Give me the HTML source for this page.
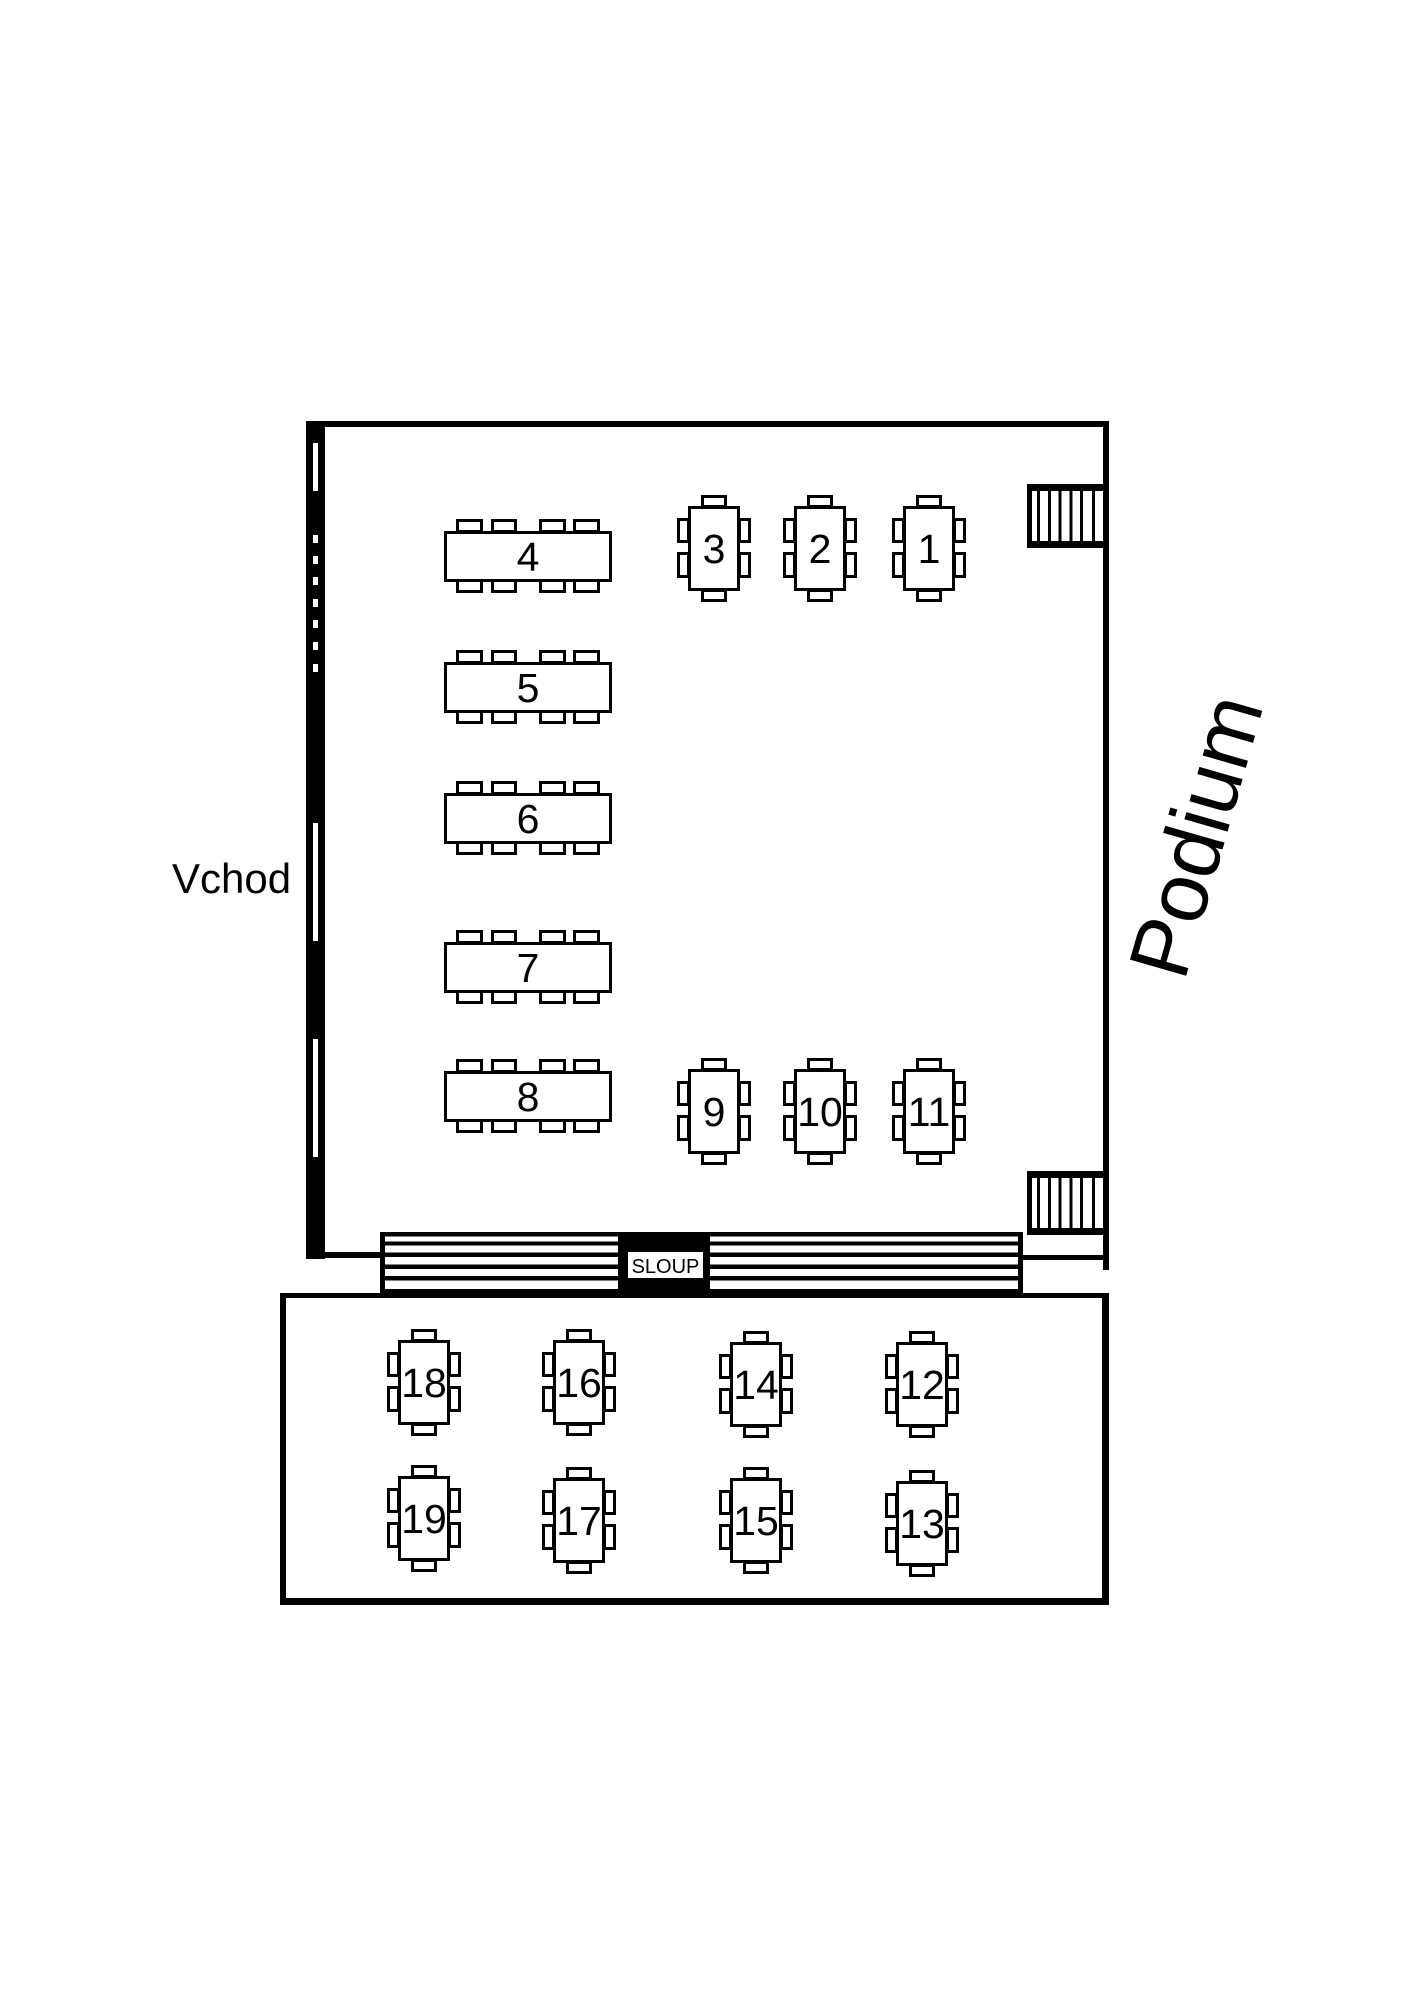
<!DOCTYPE html>
<html>
<head>
<meta charset="utf-8">
<style>
  html,body{margin:0;padding:0;background:#fff;}
  svg{display:block;}
  text{font-family:"Liberation Sans", Arial, sans-serif; fill:#000;}
</style>
</head>
<body>
<svg width="1413" height="2000" viewBox="0 0 1413 2000" xmlns="http://www.w3.org/2000/svg">
  <rect x="0" y="0" width="1413" height="2000" fill="#fff"/>
  <defs>
    <g id="st" fill="#fff" stroke="#000" stroke-width="3">
      <rect x="14.5" y="-9.5" width="23" height="10"/>
      <rect x="14.5" y="84.5" width="23" height="10"/>
      <rect x="-9.5" y="13.5" width="10" height="22"/>
      <rect x="-9.5" y="47.5" width="10" height="23"/>
      <rect x="51.5" y="13.5" width="10" height="22"/>
      <rect x="51.5" y="47.5" width="10" height="23"/>
      <rect x="1.5" y="1.5" width="49" height="82"/>
    </g>
    <g id="lt" fill="#fff" stroke="#000" stroke-width="3">
      <rect x="13.5" y="-10.5" width="24" height="11"/>
      <rect x="48.5" y="-10.5" width="23" height="11"/>
      <rect x="96.5" y="-10.5" width="24" height="11"/>
      <rect x="130.5" y="-10.5" width="24" height="11"/>
      <rect x="13.5" y="49.5" width="24" height="11"/>
      <rect x="48.5" y="49.5" width="23" height="11"/>
      <rect x="96.5" y="49.5" width="24" height="11"/>
      <rect x="130.5" y="49.5" width="24" height="11"/>
      <rect x="1.5" y="1.5" width="165" height="48"/>
    </g>
    <g id="stairs" fill="#000">
      <rect x="1027" y="0" width="79" height="7"/>
      <rect x="1027" y="57" width="79" height="7"/>
      <rect x="1027" y="0" width="5" height="64"/>
      <rect x="1037" y="0" width="3" height="64"/>
      <rect x="1048" y="0" width="3" height="64"/>
      <rect x="1058.5" y="0" width="3" height="64"/>
      <rect x="1069.5" y="0" width="3" height="64"/>
      <rect x="1080" y="0" width="3" height="64"/>
      <rect x="1092" y="0" width="3" height="64"/>
    </g>
  </defs>

  <!-- Top room walls -->
  <rect x="306" y="421" width="803" height="6" fill="#000"/>
  <rect x="1103" y="421" width="6" height="849" fill="#000"/>
  <rect x="306" y="421" width="19" height="838" fill="#000"/>
  <rect x="306" y="1252" width="76" height="6" fill="#000"/>
  <!-- slits in left wall -->
  <g fill="#fff">
    <rect x="313" y="443" width="5" height="48"/>
    <rect x="313" y="535" width="5" height="8"/>
    <rect x="313" y="556" width="5" height="8"/>
    <rect x="313" y="577" width="5" height="8"/>
    <rect x="313" y="599" width="5" height="8"/>
    <rect x="313" y="620" width="5" height="8"/>
    <rect x="313" y="642" width="5" height="8"/>
    <rect x="313" y="664" width="5" height="8"/>
    <rect x="313" y="823" width="5" height="118"/>
    <rect x="313" y="1039" width="5" height="118"/>
  </g>

  <!-- stairs -->
  <use href="#stairs" x="0" y="484"/>
  <use href="#stairs" x="0" y="1171"/>

  <!-- line right of ramp -->
  <rect x="1020" y="1255" width="86" height="5" fill="#000"/>

  <!-- Ramp -->
  <g fill="#000">
    <rect x="380" y="1232" width="643" height="4.5"/>
    <rect x="380" y="1241.5" width="643" height="4"/>
    <rect x="380" y="1252.5" width="643" height="4.5"/>
    <rect x="380" y="1264.5" width="643" height="4.5"/>
    <rect x="380" y="1276" width="643" height="4.5"/>
    <rect x="380" y="1289" width="643" height="9"/>
    <rect x="380" y="1232" width="5" height="66"/>
    <rect x="1018" y="1232" width="5" height="66"/>
    <rect x="618" y="1232" width="92" height="66"/>
  </g>
  <rect x="628" y="1252" width="75" height="26" fill="#fff"/>
  <text x="665.5" y="1273" font-size="20" text-anchor="middle">SLOUP</text>

  <!-- Bottom room -->
  <g fill="#000">
    <rect x="280" y="1293" width="829" height="5"/>
    <rect x="280" y="1293" width="6" height="312"/>
    <rect x="280" y="1598" width="829" height="7"/>
    <rect x="1102" y="1293" width="7" height="312"/>
  </g>

  <!-- Long tables -->
  <use href="#lt" x="444" y="531"/>
  <use href="#lt" x="444" y="662"/>
  <use href="#lt" x="444" y="793"/>
  <use href="#lt" x="444" y="942"/>
  <use href="#lt" x="444" y="1071"/>
  <g font-size="41" text-anchor="middle">
    <text x="528" y="571">4</text>
    <text x="528" y="702">5</text>
    <text x="528" y="833">6</text>
    <text x="528" y="982">7</text>
    <text x="528" y="1111">8</text>
  </g>

  <!-- Small tables -->
  <use href="#st" x="688" y="506"/>
  <use href="#st" x="794" y="506"/>
  <use href="#st" x="903" y="506"/>
  <use href="#st" x="688" y="1069"/>
  <use href="#st" x="794" y="1069"/>
  <use href="#st" x="903" y="1069"/>
  <use href="#st" x="398" y="1340"/>
  <use href="#st" x="553" y="1340"/>
  <use href="#st" x="730" y="1342"/>
  <use href="#st" x="896" y="1342"/>
  <use href="#st" x="398" y="1476"/>
  <use href="#st" x="553" y="1478"/>
  <use href="#st" x="730" y="1478"/>
  <use href="#st" x="896" y="1481"/>
  <g font-size="41" text-anchor="middle">
    <text x="714" y="563">3</text>
    <text x="820" y="563">2</text>
    <text x="929" y="563">1</text>
    <text x="714" y="1126">9</text>
    <text x="820" y="1126">10</text>
    <text x="929" y="1126">11</text>
    <text x="424" y="1397">18</text>
    <text x="579" y="1397">16</text>
    <text x="756" y="1399">14</text>
    <text x="922" y="1399">12</text>
    <text x="424" y="1533">19</text>
    <text x="579" y="1535">17</text>
    <text x="756" y="1535">15</text>
    <text x="922" y="1538">13</text>
  </g>

  <!-- Labels -->
  <text x="172" y="893" font-size="42">Vchod</text>
  <text x="0" y="0" font-size="85" text-anchor="middle" transform="translate(1224,844) rotate(-74)">Podium</text>
</svg>
</body>
</html>
